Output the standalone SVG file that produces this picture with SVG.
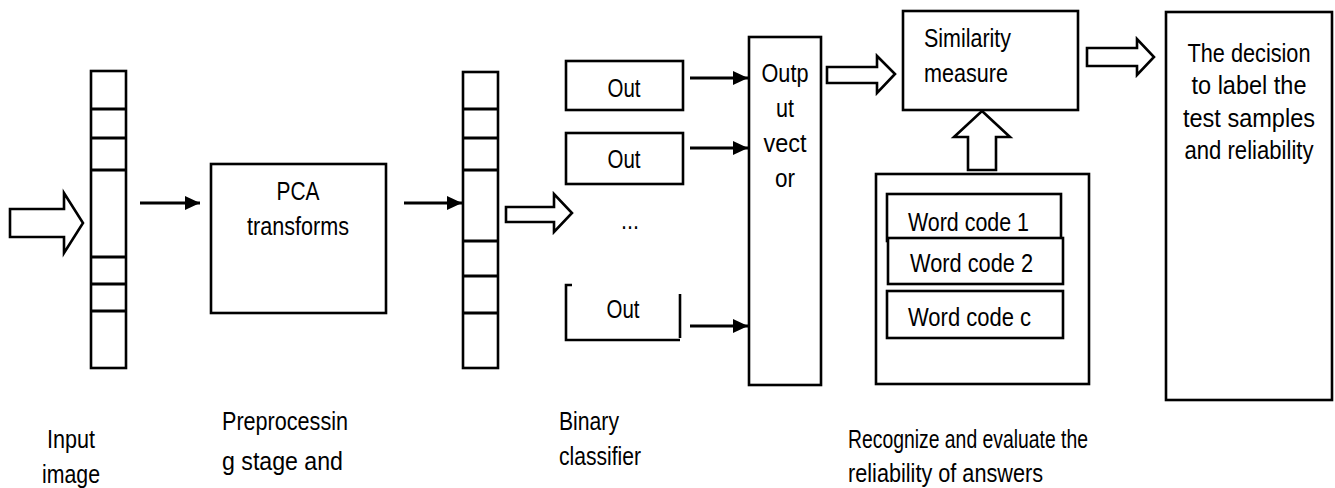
<svg xmlns="http://www.w3.org/2000/svg" width="1335" height="488" viewBox="0 0 1335 488">
<style>
.b{fill:#fff;stroke:#000;stroke-width:2.6}
.o{fill:none;stroke:#000;stroke-width:2.6}
.d{stroke:#000;stroke-width:3}
.l{stroke:#000;stroke-width:3;fill:none}
text{font-family:"Liberation Sans",Arial,sans-serif;font-size:25.5px;fill:#000}
.m{text-anchor:middle}
</style>
<defs>
<marker id="ah" viewBox="0 0 15 14" refX="15" refY="7" markerWidth="15" markerHeight="14" markerUnits="userSpaceOnUse" orient="auto">
<path d="M0,0 L15,7 L0,14 z" fill="#000"/>
</marker>
</defs>
<rect width="1335" height="488" fill="#fff"/>

<g id="input-vector">
<rect class="b" x="91" y="71" width="35" height="297"/>
<path class="d" d="M91,109H126M91,138H126M91,170H126M91,257H126M91,284H126M91,311H126"/>
</g>

<g id="pca">
<rect class="b" x="211" y="164" width="175" height="149"/>
<text class="m" x="298" y="200" textLength="43" lengthAdjust="spacingAndGlyphs">PCA</text>
<text class="m" x="298" y="235" textLength="102" lengthAdjust="spacingAndGlyphs">transforms</text>
</g>

<g id="pca-vector">
<rect class="b" x="463" y="72" width="35" height="296"/>
<path class="d" d="M463,109H498M463,138H498M463,170H498M463,241H498M463,276H498M463,313H498"/>
</g>

<g id="out1">
<rect class="b" x="566" y="61" width="117" height="49"/>
<text class="m" x="624" y="97" textLength="33" lengthAdjust="spacingAndGlyphs">Out</text>
</g>
<g id="out2">
<rect class="b" x="566" y="133" width="117" height="51"/>
<text class="m" x="624" y="168" textLength="33" lengthAdjust="spacingAndGlyphs">Out</text>
</g>
<g id="dots">
<text class="m" x="630" y="229" textLength="18" lengthAdjust="spacingAndGlyphs">...</text>
</g>
<g id="out3">
<path class="o" d="M572,285H566V340H680M680,294V338"/>
<text class="m" x="623" y="318" textLength="33" lengthAdjust="spacingAndGlyphs">Out</text>
</g>

<g id="output-vector">
<rect class="b" x="749" y="37" width="72" height="348"/>
<text class="m" x="785" y="82" textLength="47" lengthAdjust="spacingAndGlyphs">Outp</text>
<text class="m" x="785" y="117" textLength="18" lengthAdjust="spacingAndGlyphs">ut</text>
<text class="m" x="785" y="152" textLength="43" lengthAdjust="spacingAndGlyphs">vect</text>
<text class="m" x="785" y="187" textLength="20" lengthAdjust="spacingAndGlyphs">or</text>
</g>

<g id="similarity">
<rect class="b" x="903" y="11" width="175" height="99"/>
<text x="924" y="47" textLength="87" lengthAdjust="spacingAndGlyphs">Similarity</text>
<text x="924" y="82" textLength="84" lengthAdjust="spacingAndGlyphs">measure</text>
</g>

<g id="codebook">
<rect class="b" x="876" y="174" width="213" height="210"/>
<g id="word-code-1">
<rect class="b" x="887" y="194" width="174" height="47"/>
<text x="908" y="231" textLength="121" lengthAdjust="spacingAndGlyphs">Word code 1</text>
</g>
<g id="word-code-2">
<rect class="b" x="888" y="238" width="175" height="46"/>
<text x="910" y="272" textLength="123" lengthAdjust="spacingAndGlyphs">Word code 2</text>
</g>
<g id="word-code-c">
<rect class="b" x="887" y="291" width="176" height="47"/>
<text x="908" y="326" textLength="123" lengthAdjust="spacingAndGlyphs">Word code c</text>
</g>
</g>

<g id="decision">
<rect class="b" x="1166" y="12" width="166" height="388"/>
<text class="m" x="1249" y="62" textLength="123" lengthAdjust="spacingAndGlyphs">The decision</text>
<text class="m" x="1249" y="94" textLength="115" lengthAdjust="spacingAndGlyphs">to label the</text>
<text class="m" x="1249" y="127" textLength="132" lengthAdjust="spacingAndGlyphs">test samples</text>
<text class="m" x="1249" y="159" textLength="129" lengthAdjust="spacingAndGlyphs">and reliability</text>
</g>

<g id="connectors">
<polygon class="b" points="10,209 64,209 64,193 83,223 64,253 64,237 10,237"/>
<line class="l" x1="140" y1="203" x2="200" y2="203" marker-end="url(#ah)"/>
<line class="l" x1="404" y1="203" x2="462" y2="203" marker-end="url(#ah)"/>
<polygon class="b" points="506,207 554,207 554,194 572,213 554,232 554,222 506,222"/>
<line class="l" x1="690" y1="78" x2="748" y2="78" marker-end="url(#ah)"/>
<line class="l" x1="690" y1="148" x2="748" y2="148" marker-end="url(#ah)"/>
<line class="l" x1="690" y1="326" x2="748" y2="326" marker-end="url(#ah)"/>
<polygon class="b" points="827,67 877,67 877,56 895,74 877,93 877,83 827,83"/>
<polygon class="b" points="982,111 1010,137 996,137 996,170 968,170 968,137 954,137"/>
<polygon class="b" points="1087,48 1137,48 1137,39 1154,57 1137,75 1137,66 1087,66"/>
</g>

<g id="labels">
<text class="m" x="71" y="448" textLength="48" lengthAdjust="spacingAndGlyphs">Input</text>
<text class="m" x="71" y="483" textLength="58" lengthAdjust="spacingAndGlyphs">image</text>
<text x="222" y="430" textLength="126" lengthAdjust="spacingAndGlyphs">Preprocessin</text>
<text x="222" y="470" textLength="121" lengthAdjust="spacingAndGlyphs">g stage and</text>
<text x="559" y="430" textLength="60" lengthAdjust="spacingAndGlyphs">Binary</text>
<text x="559" y="465" textLength="82" lengthAdjust="spacingAndGlyphs">classifier</text>
<text x="848" y="448" textLength="240" lengthAdjust="spacingAndGlyphs">Recognize and evaluate the</text>
<text x="848" y="482" textLength="195" lengthAdjust="spacingAndGlyphs">reliability of answers</text>
</g>
</svg>
